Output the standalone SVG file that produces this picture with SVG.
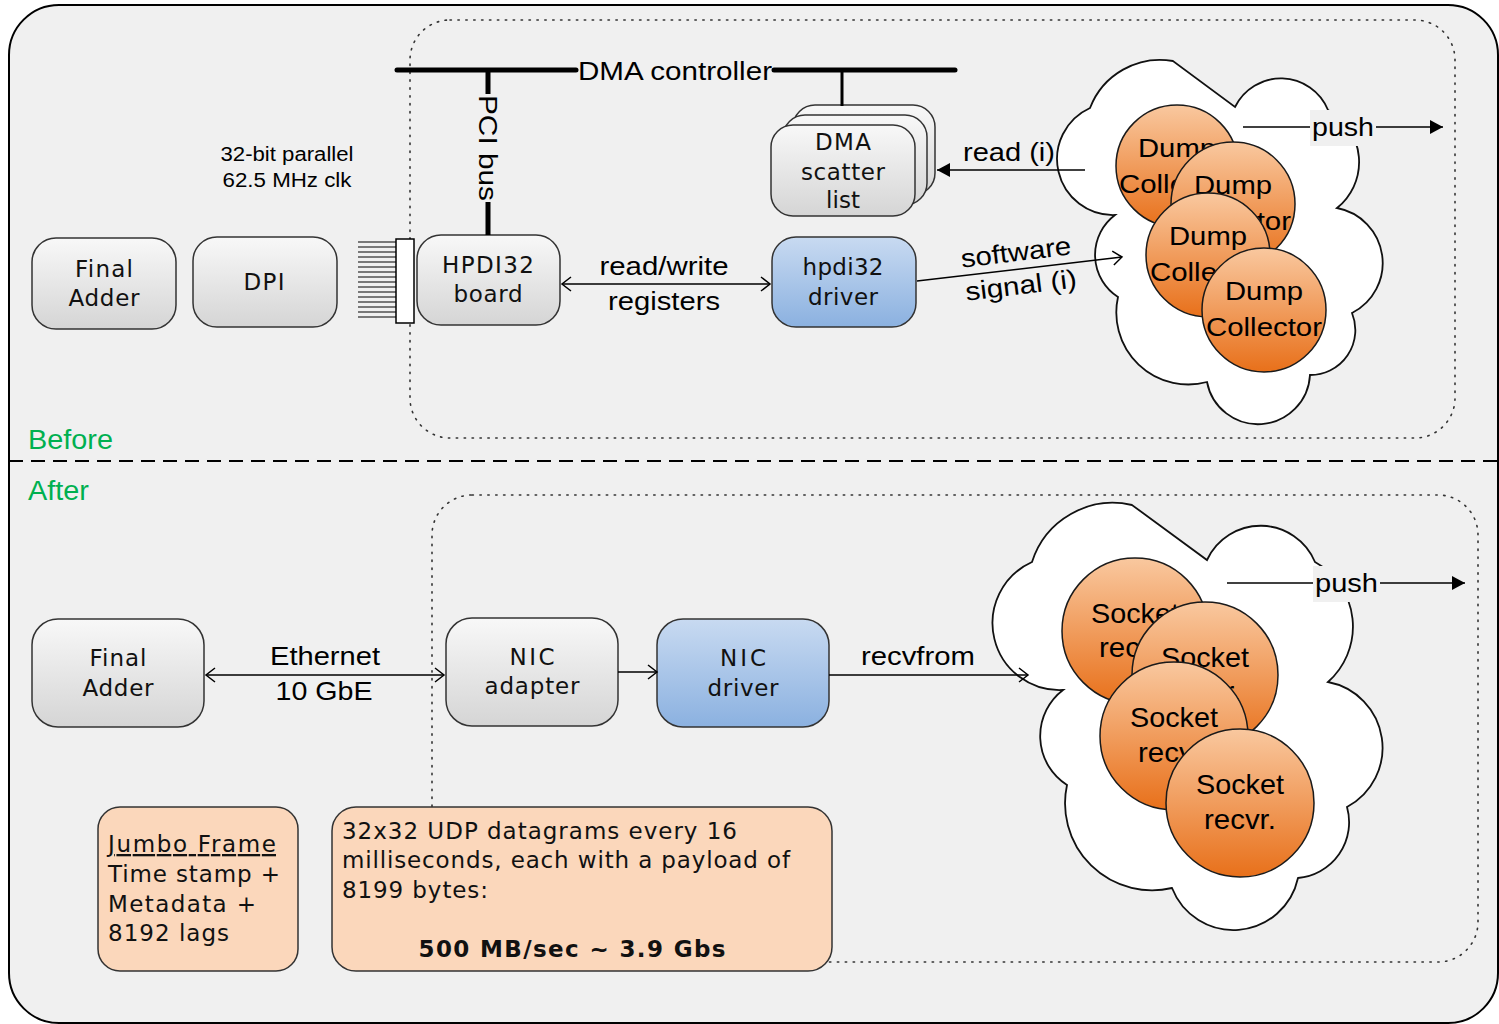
<svg xmlns="http://www.w3.org/2000/svg" width="1499" height="1024" viewBox="0 0 1499 1024">
<defs>
  <linearGradient id="gGray" x1="0" y1="0" x2="0" y2="1">
    <stop offset="0" stop-color="#f8f8f8"/>
    <stop offset="1" stop-color="#d5d5d5"/>
  </linearGradient>
  <linearGradient id="gBlue" x1="0" y1="0" x2="0" y2="1">
    <stop offset="0" stop-color="#c8daf1"/>
    <stop offset="1" stop-color="#8bb1e0"/>
  </linearGradient>
  <linearGradient id="gOrange" x1="0" y1="0" x2="0" y2="1">
    <stop offset="0" stop-color="#f9c89f"/>
    <stop offset="1" stop-color="#e8701a"/>
  </linearGradient>
  <marker id="open" viewBox="-11 -8 13 16" refX="0" refY="0" markerWidth="13" markerHeight="16" markerUnits="userSpaceOnUse" orient="auto-start-reverse">
    <path d="M -9 -7 L 0 0 L -9 7" fill="none" stroke="#000" stroke-width="1.5"/>
  </marker>
  <marker id="solid" viewBox="-14 -8 15 16" refX="0" refY="0" markerWidth="15" markerHeight="16" markerUnits="userSpaceOnUse" orient="auto">
    <path d="M -13 -7 L 0 0 L -13 7 Z" fill="#000"/>
  </marker>
</defs>
<style>
  .box{stroke:#333;stroke-width:1.5}
  .gray{fill:url(#gGray)}
  .blue{fill:url(#gBlue)}
  .note{fill:#fbd7bb;stroke:#333;stroke-width:1.5}
  .nt{font-family:"DejaVu Sans",Verdana,sans-serif;font-size:23px;fill:#111;text-anchor:middle}
  .ntl{font-family:"DejaVu Sans",Verdana,sans-serif;font-size:23px;fill:#111}
  .lbl{font-family:"Liberation Sans",Arial,sans-serif;font-size:26px;fill:#000}
  .mid{text-anchor:middle}
  .ball{fill:url(#gOrange);stroke:#1a1a1a;stroke-width:1.5}
  .cloud{fill:#fff;stroke:#111;stroke-width:1.8}
  .ln{stroke:#000;stroke-width:1.5;fill:none}
  .dots{fill:none;stroke:#333;stroke-width:1.6;stroke-dasharray:1.4 6.5;stroke-linecap:round}
  .green{font-family:"Liberation Sans",Arial,sans-serif;font-size:27px;fill:#00b050}
</style>

<!-- frame -->
<g id="frame">
  <rect x="9" y="5" width="1489" height="1018" rx="50" ry="50" fill="#f0f0f0" stroke="#000" stroke-width="2"/>
  <line x1="9" y1="461" x2="1499" y2="461" stroke="#000" stroke-width="2" stroke-dasharray="14 8"/>
  <rect class="dots" x="410" y="20" width="1045" height="418" rx="40" ry="40"/>
  <rect class="dots" x="432" y="495" width="1046" height="467" rx="40" ry="40"/>
  <text class="green" x="28" y="449" textLength="85" lengthAdjust="spacingAndGlyphs">Before</text>
  <text class="green" x="28" y="500" textLength="61" lengthAdjust="spacingAndGlyphs">After</text>
</g>

<!-- top section nodes -->
<g id="final-adder-top">
  <rect class="box gray" x="32" y="238" width="144" height="91" rx="24"/>
  <text class="nt" x="104" y="277" textLength="58" lengthAdjust="spacing">Final</text>
  <text class="nt" x="104" y="306" textLength="71" lengthAdjust="spacing">Adder</text>
</g>
<g id="dpi">
  <rect class="box gray" x="193" y="237" width="144" height="90" rx="24"/>
  <text class="nt" x="264" y="290" textLength="41" lengthAdjust="spacing">DPI</text>
</g>
<g id="parallel-label">
  <text class="lbl mid" x="287" y="161" style="font-size:20px" textLength="133" lengthAdjust="spacingAndGlyphs">32-bit parallel</text>
  <text class="lbl mid" x="287" y="187" style="font-size:20px" textLength="129" lengthAdjust="spacingAndGlyphs">62.5 MHz clk</text>
</g>
<g id="connector-plug">
  <g stroke="#000" stroke-width="1.2">
    <line x1="358" y1="242" x2="396" y2="242"/><line x1="358" y1="247" x2="396" y2="247"/>
    <line x1="358" y1="252" x2="396" y2="252"/><line x1="358" y1="257" x2="396" y2="257"/>
    <line x1="358" y1="262" x2="396" y2="262"/><line x1="358" y1="267" x2="396" y2="267"/>
    <line x1="358" y1="272" x2="396" y2="272"/><line x1="358" y1="277" x2="396" y2="277"/>
    <line x1="358" y1="282" x2="396" y2="282"/><line x1="358" y1="287" x2="396" y2="287"/>
    <line x1="358" y1="292" x2="396" y2="292"/><line x1="358" y1="297" x2="396" y2="297"/>
    <line x1="358" y1="302" x2="396" y2="302"/><line x1="358" y1="307" x2="396" y2="307"/>
    <line x1="358" y1="312" x2="396" y2="312"/><line x1="358" y1="317" x2="396" y2="317"/>
  </g>
  <rect x="396" y="239" width="18" height="84" fill="#fff" stroke="#000" stroke-width="1.5"/>
</g>
<g id="hpdi32-board">
  <rect class="box gray" x="417" y="235" width="143" height="90" rx="24"/>
  <text class="nt" x="488" y="273" textLength="92" lengthAdjust="spacing">HPDI32</text>
  <text class="nt" x="488" y="302" textLength="69" lengthAdjust="spacing">board</text>
</g>
<g id="dma-scatter-list">
  <rect class="box gray" x="793" y="105" width="142" height="90" rx="22"/>
  <rect class="box gray" x="783" y="115" width="144" height="90" rx="22"/>
  <rect class="box gray" x="771" y="125" width="144" height="91" rx="22"/>
  <text class="nt" x="843" y="150" textLength="56" lengthAdjust="spacing">DMA</text>
  <text class="nt" x="843" y="180" textLength="84" lengthAdjust="spacing">scatter</text>
  <text class="nt" x="843" y="208" textLength="34" lengthAdjust="spacing">list</text>
</g>
<g id="hpdi32-driver">
  <rect class="box blue" x="772" y="237" width="144" height="90" rx="24"/>
  <text class="nt" x="843" y="275" textLength="81" lengthAdjust="spacing">hpdi32</text>
  <text class="nt" x="843" y="305" textLength="70" lengthAdjust="spacing">driver</text>
</g>
<g id="cloud-top">
  <path class="cloud" d="M 1090 108 A 75 75 0 0 1 1173 61 L 1235 107 A 51 51 0 0 1 1328 110 A 59 59 0 0 1 1337 208 A 56 56 0 0 1 1352 313 A 45 45 0 0 1 1310 375 A 52 52 0 0 1 1207 382 A 72 72 0 0 1 1118 297 A 50 50 0 0 1 1115 215 A 56 56 0 0 1 1090 108 Z"/>
</g>

<!-- bottom section nodes -->
<g id="final-adder-bottom">
  <rect class="box gray" x="32" y="619" width="172" height="108" rx="26"/>
  <text class="nt" x="118" y="666" textLength="57" lengthAdjust="spacing">Final</text>
  <text class="nt" x="118" y="696" textLength="71" lengthAdjust="spacing">Adder</text>
</g>
<g id="nic-adapter">
  <rect class="box gray" x="446" y="618" width="172" height="108" rx="26"/>
  <text class="nt" x="532" y="665" textLength="45" lengthAdjust="spacing">NIC</text>
  <text class="nt" x="532" y="694" textLength="95" lengthAdjust="spacing">adapter</text>
</g>
<g id="nic-driver">
  <rect class="box blue" x="657" y="619" width="172" height="108" rx="26"/>
  <text class="nt" x="743" y="666" textLength="46" lengthAdjust="spacing">NIC</text>
  <text class="nt" x="743" y="696" textLength="71" lengthAdjust="spacing">driver</text>
</g>
<g id="cloud-bottom">
  <path class="cloud" d="M 1032 562 A 85 85 0 0 1 1132 505 L 1207 560 A 59 59 0 0 1 1315 562 A 74 74 0 0 1 1328 682 A 67 67 0 0 1 1347 807 A 56 56 0 0 1 1298 878 A 66 66 0 0 1 1172 888 A 87 87 0 0 1 1067 785 A 58 58 0 0 1 1063 690 A 67 67 0 0 1 1032 562 Z"/>
</g>
<g id="note-jumbo">
  <rect class="note" x="98" y="807" width="200" height="164" rx="22"/>
  <text class="ntl" x="108" y="852" textLength="168" lengthAdjust="spacing" text-decoration="underline">Jumbo Frame</text>
  <text class="ntl" x="108" y="882" textLength="172" lengthAdjust="spacing">Time stamp +</text>
  <text class="ntl" x="108" y="912" textLength="148" lengthAdjust="spacing">Metadata +</text>
  <text class="ntl" x="108" y="941" textLength="121" lengthAdjust="spacing">8192 lags</text>
</g>
<g id="note-udp">
  <rect class="note" x="332" y="807" width="500" height="164" rx="24"/>
  <text class="ntl" x="342" y="839" textLength="395" lengthAdjust="spacing">32x32 UDP datagrams every 16</text>
  <text class="ntl" x="342" y="868" textLength="448" lengthAdjust="spacing">milliseconds, each with a payload of</text>
  <text class="ntl" x="342" y="898" textLength="146" lengthAdjust="spacing">8199 bytes:</text>
  <text class="nt" x="572" y="957" font-weight="bold" textLength="307" lengthAdjust="spacing">500 MB/sec ~ 3.9 Gbs</text>
</g>

<!-- connectors -->
<g id="connectors">
  <line x1="397" y1="70" x2="576" y2="70" stroke="#000" stroke-width="5" stroke-linecap="round"/>
  <line x1="774" y1="70" x2="955" y2="70" stroke="#000" stroke-width="5" stroke-linecap="round"/>
  <text class="lbl mid" x="675" y="80" textLength="194" lengthAdjust="spacingAndGlyphs">DMA controller</text>
  <line x1="488" y1="70" x2="488" y2="94" stroke="#000" stroke-width="5"/>
  <line x1="488" y1="202" x2="488" y2="235" stroke="#000" stroke-width="5"/>
  <text class="lbl mid" transform="translate(488,148) rotate(90)" x="0" y="9" textLength="106" lengthAdjust="spacingAndGlyphs">PCI bus</text>
  <line x1="842" y1="70" x2="842" y2="106" stroke="#000" stroke-width="3"/>

  <line class="ln" x1="1085" y1="170" x2="937" y2="170" marker-end="url(#solid)"/>
  <text class="lbl" x="963" y="161" textLength="92" lengthAdjust="spacingAndGlyphs">read (i)</text>

  <line class="ln" x1="562" y1="284" x2="770" y2="284" marker-start="url(#open)" marker-end="url(#open)"/>
  <text class="lbl mid" x="664" y="275" textLength="129" lengthAdjust="spacingAndGlyphs">read/write</text>
  <text class="lbl mid" x="664" y="310" textLength="112" lengthAdjust="spacingAndGlyphs">registers</text>

  <line class="ln" x1="917" y1="281" x2="1122" y2="257" marker-end="url(#open)"/>
  <text class="lbl mid" transform="translate(1017,261) rotate(-7)" x="0" y="0" textLength="111" lengthAdjust="spacingAndGlyphs">software</text>
  <text class="lbl mid" transform="translate(1022,294) rotate(-7)" x="0" y="0" textLength="112" lengthAdjust="spacingAndGlyphs">signal (i)</text>

  <line class="ln" x1="206" y1="675" x2="444" y2="675" marker-start="url(#open)" marker-end="url(#open)"/>
  <text class="lbl mid" x="325" y="665" textLength="110" lengthAdjust="spacingAndGlyphs">Ethernet</text>
  <text class="lbl mid" x="324" y="700" textLength="97" lengthAdjust="spacingAndGlyphs">10 GbE</text>

  <line class="ln" x1="618" y1="672" x2="657" y2="672" marker-end="url(#open)"/>

  <line class="ln" x1="829" y1="675" x2="1028" y2="675" marker-end="url(#open)"/>
  <text class="lbl mid" x="918" y="665" textLength="114" lengthAdjust="spacingAndGlyphs">recvfrom</text>
</g>

<!-- collectors -->
<g id="dump-collector-1">
  <circle class="ball" cx="1177" cy="166" r="61"/>
  <text class="lbl mid" x="1177" y="157" textLength="78" lengthAdjust="spacingAndGlyphs">Dump</text>
  <text class="lbl mid" x="1177" y="193" textLength="116" lengthAdjust="spacingAndGlyphs">Collector</text>
</g>
<g id="dump-collector-2">
  <circle class="ball" cx="1233" cy="204" r="62"/>
  <text class="lbl mid" x="1233" y="194" textLength="78" lengthAdjust="spacingAndGlyphs">Dump</text>
  <text class="lbl mid" x="1233" y="230" textLength="116" lengthAdjust="spacingAndGlyphs">Collector</text>
</g>
<g id="dump-collector-3">
  <circle class="ball" cx="1208" cy="255" r="62"/>
  <text class="lbl mid" x="1208" y="245" textLength="78" lengthAdjust="spacingAndGlyphs">Dump</text>
  <text class="lbl mid" x="1208" y="281" textLength="116" lengthAdjust="spacingAndGlyphs">Collector</text>
</g>
<g id="dump-collector-4">
  <circle class="ball" cx="1264" cy="310" r="62"/>
  <text class="lbl mid" x="1264" y="300" textLength="78" lengthAdjust="spacingAndGlyphs">Dump</text>
  <text class="lbl mid" x="1264" y="336" textLength="116" lengthAdjust="spacingAndGlyphs">Collector</text>
</g>

<g id="socket-recvr-1">
  <circle class="ball" cx="1135" cy="631" r="73"/>
  <text class="lbl mid" x="1135" y="623" style="font-size:28px" textLength="88" lengthAdjust="spacingAndGlyphs">Socket</text>
  <text class="lbl mid" x="1135" y="657" style="font-size:28px" textLength="72" lengthAdjust="spacingAndGlyphs">recvr.</text>
</g>
<g id="socket-recvr-2">
  <circle class="ball" cx="1205" cy="675" r="73"/>
  <text class="lbl mid" x="1205" y="667" style="font-size:28px" textLength="88" lengthAdjust="spacingAndGlyphs">Socket</text>
  <text class="lbl mid" x="1205" y="701" style="font-size:28px" textLength="72" lengthAdjust="spacingAndGlyphs">recvr.</text>
</g>
<g id="socket-recvr-3">
  <circle class="ball" cx="1174" cy="736" r="74"/>
  <text class="lbl mid" x="1174" y="727" style="font-size:28px" textLength="88" lengthAdjust="spacingAndGlyphs">Socket</text>
  <text class="lbl mid" x="1174" y="762" style="font-size:28px" textLength="72" lengthAdjust="spacingAndGlyphs">recvr.</text>
</g>
<g id="socket-recvr-4">
  <circle class="ball" cx="1240" cy="803" r="74"/>
  <text class="lbl mid" x="1240" y="794" style="font-size:28px" textLength="88" lengthAdjust="spacingAndGlyphs">Socket</text>
  <text class="lbl mid" x="1240" y="829" style="font-size:28px" textLength="72" lengthAdjust="spacingAndGlyphs">recvr.</text>
</g>

<!-- push connectors -->
<g id="push-connectors">
  <line class="ln" x1="1243" y1="127" x2="1443" y2="127" marker-end="url(#solid)"/>
  <rect x="1310" y="110" width="66" height="36" fill="#f0f0f0"/>
  <text class="lbl" x="1312" y="136" textLength="62" lengthAdjust="spacingAndGlyphs">push</text>
  <line class="ln" x1="1227" y1="583" x2="1465" y2="583" marker-end="url(#solid)"/>
  <rect x="1313" y="566" width="67" height="36" fill="#f0f0f0"/>
  <text class="lbl" x="1315" y="592" textLength="63" lengthAdjust="spacingAndGlyphs">push</text>
</g>
</svg>
